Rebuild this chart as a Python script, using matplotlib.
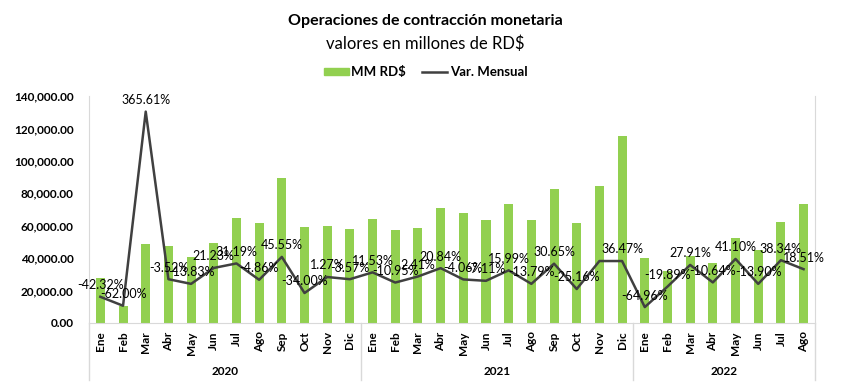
import matplotlib.pyplot as plt
from matplotlib.lines import Line2D
from matplotlib.patches import Patch
import matplotlib.transforms as mtransforms

plt.rcParams['font.family'] = ['Lato', 'DejaVu Sans']

meses = ['Ene', 'Feb', 'Mar', 'Abr', 'May', 'Jun', 'Jul', 'Ago', 'Sep', 'Oct', 'Nov', 'Dic']
years = ['2020', '2021', '2022']
months_per_year = [12, 12, 8]

# MM RD$ (millones)
montos = [27640, 10500, 48900, 47200, 40670, 49300, 64680, 61540, 89570, 59120, 59870, 57730,
          64390, 57340, 58720, 70960, 68080, 63240, 73350, 63240, 82620, 61830, 84380, 115150,
          40350, 32320, 41340, 36940, 52120, 44880, 62090, 73580]
# Var. Mensual (%)
var_mensual = [-42.32, -62.00, 365.61, -3.52, -13.83, 21.23, 31.19, -4.86, 45.55, -34.00, 1.27, -3.57,
               11.53, -10.95, 2.41, 20.84, -4.06, -7.11, 15.99, -13.79, 30.65, -25.16, 36.47, 36.47,
               -64.96, -19.89, 27.91, -10.64, 41.10, -13.90, 38.34, 18.51]
# the Nov 2021 point has no data label in the original
sin_etiqueta = [22]

labels = []
for n in months_per_year:
    labels += meses[:n]
x = list(range(len(montos)))

fig = plt.figure(figsize=(8.51, 3.89), dpi=100)
ax = fig.add_axes([0.1046, 0.1697, 0.853, 0.5835])

green = '#92D050'
line_c = '#404040'
grid_c = '#D9D9D9'

ax.bar(x, montos, width=0.4, color=green, zorder=2)
ax.set_xlim(-0.5, len(montos) - 0.5)
ax.set_ylim(0, 140000)
ax.set_yticks(range(0, 140001, 20000))
ax.set_yticklabels(['{:,.2f}'.format(v) for v in range(0, 140001, 20000)],
                   fontsize=8.5, fontweight='bold')
ax.set_xticks(x)
ax.set_xticklabels(labels, rotation=90, fontsize=8.5, fontweight='bold')
ax.tick_params(axis='both', length=0, pad=6)
ax.tick_params(axis='y', pad=11)
ax.spines['top'].set_visible(False)
for s in ['left', 'right', 'bottom']:
    ax.spines[s].set_color(grid_c)

# multi-level category axis
trans = mtransforms.blended_transform_factory(ax.transData, ax.transAxes)
start = 0
bounds = [-0.5]
for yr, n in zip(years, months_per_year):
    mid = start + (n - 1) / 2
    ax.text(mid, -0.215, yr, transform=trans, ha='center', va='center',
            fontsize=8.5, fontweight='bold')
    start += n
    bounds.append(start - 0.5)
for b in bounds:
    ax.plot([b, b], [0, -0.25], transform=trans, color=grid_c, lw=1, clip_on=False)

ax2 = ax.twinx()
ax2.set_ylim(-100, 400)
ax2.plot(x, var_mensual, color=line_c, lw=1.8, zorder=3)
ax2.set_yticks([])
for s in ax2.spines.values():
    s.set_visible(False)
for xi, v in zip(x, var_mensual):
    if xi in sin_etiqueta:
        continue
    ax2.annotate('{:.2f}%'.format(v), (xi, v), xytext=(0, 4), textcoords='offset points',
                 ha='center', va='bottom', fontsize=9, color='black')

fig.text(0.5, 0.945, 'Operaciones de contracción monetaria', ha='center', va='center',
         fontsize=11.5, fontweight='bold')
fig.text(0.5, 0.888, 'valores en millones de RD$', ha='center', va='center', fontsize=12)

handles = [Patch(color=green), Line2D([0], [0], color=line_c, lw=1.8)]
fig.legend(handles, ['MM RD$', 'Var. Mensual'], loc='center', bbox_to_anchor=(0.5, 0.815),
           ncol=2, frameon=False, prop={'size': 9.5, 'weight': 'bold'},
           handlelength=1.9, handleheight=0.5, columnspacing=1.2, handletextpad=0.2)

fig.savefig('out.png', dpi=100)
